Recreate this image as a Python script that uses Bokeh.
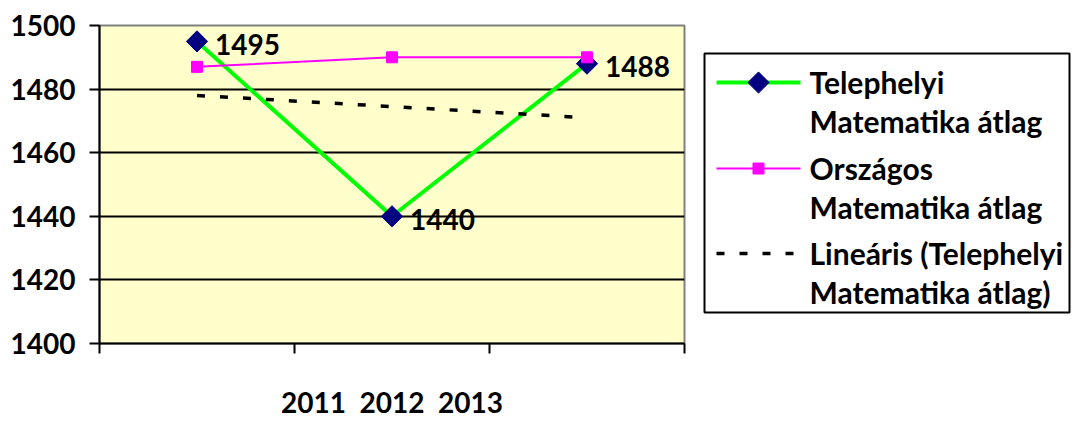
from bokeh.plotting import figure
from bokeh.layouts import row
from bokeh.models import Range1d, FixedTicker
from bokeh.core.properties import value
from bokeh.embed import file_html
from bokeh.resources import INLINE
import numpy as np

years = ["2011", "2012", "2013"]
telephelyi = [1495, 1440, 1488]
orszagos = [1487, 1490, 1490]
trend = [1478, 1474.5, 1471]
y_ticks = [1400, 1420, 1440, 1460, 1480, 1500]
legend_labels = [["Telephelyi", "Matematika átlag"],
                 ["Országos", "Matematika átlag"],
                 ["Lineáris (Telephelyi", "Matematika átlag)"]]

FONT = "Lato"
FS = "28px"
LFS = "30px"

xs = [i + 0.5 for i in range(len(years))]

TOP, BOTTOM_BORDER = 25, 78
H = 421

p = figure(width=698, height=H, output_backend="svg", toolbar_location=None,
           x_range=Range1d(0, len(years)), y_range=Range1d(y_ticks[0], y_ticks[-1]),
           min_border_left=99, min_border_right=14, min_border_top=TOP,
           min_border_bottom=BOTTOM_BORDER)
p.background_fill_color = "#FFFFCC"
p.border_fill_color = "white"
p.outline_line_color = "#808080"
p.outline_line_width = 2

# grid
p.xgrid.grid_line_color = None
p.ygrid.ticker = FixedTicker(ticks=y_ticks)
p.ygrid.grid_line_color = "black"
p.ygrid.grid_line_width = 2

# y axis
p.yaxis.ticker = FixedTicker(ticks=y_ticks)
p.yaxis.axis_line_color = "black"
p.yaxis.axis_line_width = 2
p.yaxis.major_tick_line_width = 2
p.yaxis.major_tick_out = 10
p.yaxis.major_tick_in = 0
p.yaxis.minor_tick_line_color = None
p.yaxis.major_label_text_font = FONT
p.yaxis.major_label_text_font_size = FS
p.yaxis.major_label_text_font_style = "bold"
p.yaxis.major_label_text_color = "black"
p.yaxis.major_label_standoff = 14

# x axis: boundary ticks (as minor ticks, no labels), years centered below
p.xaxis.ticker = FixedTicker(ticks=[], minor_ticks=list(range(len(years) + 1)))
p.xaxis.axis_line_color = "black"
p.xaxis.axis_line_width = 2
p.xaxis.minor_tick_line_color = "black"
p.xaxis.minor_tick_line_width = 2
p.xaxis.minor_tick_out = 10
p.xaxis.minor_tick_in = 0
p.xaxis.axis_label = "\u00a0\u00a0".join(years)
p.xaxis.axis_label_text_font = FONT
p.xaxis.axis_label_text_font_size = FS
p.xaxis.axis_label_text_font_style = "bold"
p.xaxis.axis_label_text_color = "black"
p.xaxis.axis_label_standoff = 31

# series
p.line(xs, telephelyi, line_color="#00FF00", line_width=4)
p.scatter(xs, telephelyi, marker="square", angle=np.pi / 4, size=15,
          fill_color="#000080", line_color="#000080")
p.line(xs, orszagos, line_color="#FF00FF", line_width=2)
p.scatter(xs, orszagos, marker="square", size=11,
          fill_color="#FF00FF", line_color="#FF00FF")
p.line(xs, trend, line_color="black", line_width=3.5, line_dash="8 15")

p.text(xs, telephelyi, text=[str(v) for v in telephelyi], x_offset=18, y_offset=3,
       text_font=value(FONT), text_font_size=FS, text_font_style="bold",
       text_color="black", text_baseline="middle", text_align="left")

# legend panel (frame aligned with the main frame; pixel-like coordinates)
LW = 375
lg = figure(width=LW, height=H, output_backend="svg", toolbar_location=None,
            x_range=Range1d(0, LW), y_range=Range1d(H - BOTTOM_BORDER, TOP),
            min_border_left=0, min_border_right=0, min_border_top=TOP,
            min_border_bottom=BOTTOM_BORDER,
            x_axis_location=None, y_axis_location=None)
lg.grid.visible = False
lg.outline_line_color = None
lg.background_fill_color = "white"
lg.border_fill_color = "white"

lg.quad(left=[6], right=[371], top=[53], bottom=[312], fill_color=None,
        line_color="black", line_width=2)

item_y = [82, 168, 253]
line_gap = 39
# item 1
lg.line([18, 102], [item_y[0]] * 2, line_color="#00FF00", line_width=4)
lg.scatter([60], [item_y[0]], marker="square", angle=np.pi / 4, size=15,
           fill_color="#000080", line_color="#000080")
# item 2
lg.line([18, 102], [item_y[1]] * 2, line_color="#FF00FF", line_width=2)
lg.scatter([60], [item_y[1]], marker="square", size=11,
           fill_color="#FF00FF", line_color="#FF00FF")
# item 3
lg.line([18, 102], [item_y[2]] * 2, line_color="black", line_width=3.5, line_dash="8 15")

tx, ty, tt = [], [], []
for yy, labs in zip(item_y, legend_labels):
    for k, lab in enumerate(labs):
        tx.append(111)
        ty.append(yy + k * line_gap - 1)
        tt.append(lab)
lg.text(tx, ty, text=tt, text_font=value(FONT), text_font_size=LFS,
        text_font_style="bold", text_color="black", text_baseline="middle",
        text_align="left")

layout = row(p, lg, spacing=0)
open("out.html", "w").write(file_html(layout, INLINE))
